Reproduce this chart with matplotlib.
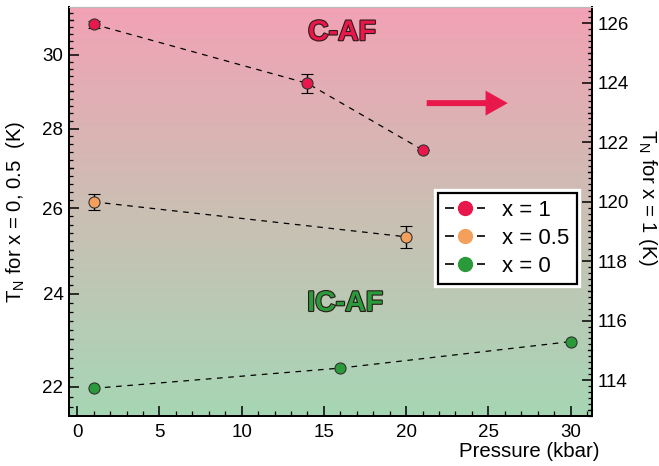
import numpy as np
import matplotlib
matplotlib.use('Agg')
import matplotlib.pyplot as plt
import matplotlib.patheffects as pe
from matplotlib.colors import LinearSegmentedColormap
from matplotlib.lines import Line2D
from matplotlib.ticker import FixedLocator, NullFormatter, FormatStrFormatter
from matplotlib.transforms import blended_transform_factory

plt.rcParams['font.family'] = ['Liberation Sans', 'DejaVu Sans']
plt.rcParams['mathtext.default'] = 'regular'

# data
p_x1 = [1, 14, 21]
t_x1 = [125.97, 123.98, 121.74]
e_x1 = [0.12, 0.33, 0.0]

p_x05 = [1, 20]
t_x05 = [26.15, 25.31]
e_x05 = [0.2, 0.26]

p_x0 = [1, 16, 30]
t_x0 = [21.97, 22.39, 22.95]

labels = ['x = 1', 'x = 0.5', 'x = 0']
red = '#E8184C'
orange = '#F4A05C'
green = '#2A9A3A'

fig = plt.figure(figsize=(6.59, 4.66), dpi=100)
ax = fig.add_axes([0.1047, 0.1073, 0.7936, 0.8777])
ax2 = ax.twinx()

# gradient background
cmap = LinearSegmentedColormap.from_list('bg', ['#A6D6B5', '#CBBFB3', '#F2A2B5'])
grad = np.linspace(0, 1, 256).reshape(-1, 1)
ax.imshow(grad, cmap=cmap, origin='lower', extent=[0, 1, 0, 1],
          transform=ax.transAxes, aspect='auto', zorder=0)

ax.set_yscale('log')
ax.set_xlim(-0.5, 31.3)
ax.set_ylim(21.41, 31.37)
ax2.set_ylim(112.79, 126.55)

dash = (0, (4.5, 4.5))
ax.plot(p_x05, t_x05, ls=dash, color='k', lw=0.9, zorder=2)
ax.errorbar(p_x05, t_x05, yerr=e_x05, fmt='o', color='k', ecolor='k', elinewidth=1,
            capsize=4, capthick=1, ms=8, mfc=orange, mec='#333333', mew=0.8, zorder=3)
ax.plot(p_x0, t_x0, ls=dash, color='k', lw=0.9, marker='o', ms=8, mfc=green,
        mec='#333333', mew=0.8, zorder=3)

ax2.plot(p_x1, t_x1, ls=dash, color='k', lw=0.9, zorder=2)
ax2.errorbar(p_x1, t_x1, yerr=e_x1, fmt='o', color='k', ecolor='k', elinewidth=1,
             capsize=4, capthick=1, ms=8, mfc=red, mec='#333333', mew=0.8, zorder=3)

# ticks
ax.xaxis.set_major_locator(FixedLocator(np.arange(0, 31, 5)))
ax.xaxis.set_minor_locator(FixedLocator(np.arange(0, 32, 1)))
ax.yaxis.set_major_locator(FixedLocator([22, 24, 26, 28, 30]))
ax.yaxis.set_major_formatter(FormatStrFormatter('%d'))
ax.yaxis.set_minor_locator(FixedLocator(np.arange(21.4, 31.4, 0.2)))
ax.yaxis.set_minor_formatter(NullFormatter())
ax2.yaxis.set_major_locator(FixedLocator(np.arange(114, 127, 2)))
ax2.yaxis.set_minor_locator(FixedLocator(np.arange(112.8, 126.6, 0.2)))

for a in (ax, ax2):
    a.tick_params(which='major', direction='in', length=7, width=1.1, labelsize=13.5)
    a.tick_params(which='minor', direction='in', length=3, width=0.9)
ax.tick_params(axis='x', which='major', length=7, pad=6)
ax.tick_params(axis='x', which='minor', length=3.5)
ax.tick_params(axis='y', right=False, pad=4)
ax2.tick_params(axis='y', left=False, pad=4)

# medium ticks at odd integers
tl = blended_transform_factory(ax.transAxes, ax.transData)
for v in [23, 25, 27, 29, 31]:
    ax.plot([0, 0.0085], [v, v], transform=tl, color='k', lw=0.9, clip_on=False, zorder=4)
tr = blended_transform_factory(ax2.transAxes, ax2.transData)
for v in [113, 115, 117, 119, 121, 123, 125]:
    ax2.plot([1, 1 - 0.0085], [v, v], transform=tr, color='k', lw=0.9, clip_on=False, zorder=4)

for a in (ax, ax2):
    for s in ('left', 'right', 'bottom'):
        a.spines[s].set_linewidth(1.4)
    a.spines['top'].set_color('#bbbbbb')
    a.spines['top'].set_linewidth(0.8)

ax.set_xlabel('Pressure (kbar)', fontsize=14.7, loc='right', va='top')
ax.xaxis.set_label_coords(1.015, -0.064)
ax.set_ylabel('T$_N$ for x = 0, 0.5  (K)', fontsize=14.7)
ax.yaxis.set_label_coords(-0.08, 0.5)
ax2.set_ylabel('T$_N$ for x = 1 (K)', fontsize=14.7, rotation=270)
ax2.yaxis.set_label_coords(1.128, 0.535)

outline = [pe.withStroke(linewidth=1.6, foreground='#2a1a1a')]
ax2.text(0.522, 0.936, 'C-AF', transform=ax.transAxes, fontsize=20.5, fontweight='bold',
         color=red, ha='center', va='center', path_effects=outline, zorder=5)
ax2.text(0.528, 0.274, 'IC-AF', transform=ax.transAxes, fontsize=20.5, fontweight='bold',
         color=green, ha='center', va='center', path_effects=outline, zorder=5)

ax2.annotate('', xy=(0.839, 0.765), xytext=(0.684, 0.765), xycoords='axes fraction',
             arrowprops=dict(arrowstyle='simple,head_length=0.8,head_width=0.9,tail_width=0.215',
                             mutation_scale=20, lw=0, color=red, shrinkA=0, shrinkB=0))

handles = [Line2D([], [], ls=(0, (5.4, 13.8)), color='k', lw=1.2, marker='o', ms=10,
                  mfc=c, mec=c) for c in (red, orange, green)]
leg = ax2.legend(handles, labels, loc='upper right', bbox_to_anchor=(0.971, 0.545),
                 fontsize=16, frameon=True, fancybox=False, framealpha=1,
                 edgecolor='k', handlelength=1.8, labelspacing=0.3, borderpad=0.32,
                 handletextpad=0.8, borderaxespad=0)
leg.get_frame().set_linewidth(1.6)
leg.get_frame().set_path_effects([pe.withStroke(linewidth=6, foreground='white')])
leg.set_zorder(10)

fig.savefig('out.png', dpi=100)
